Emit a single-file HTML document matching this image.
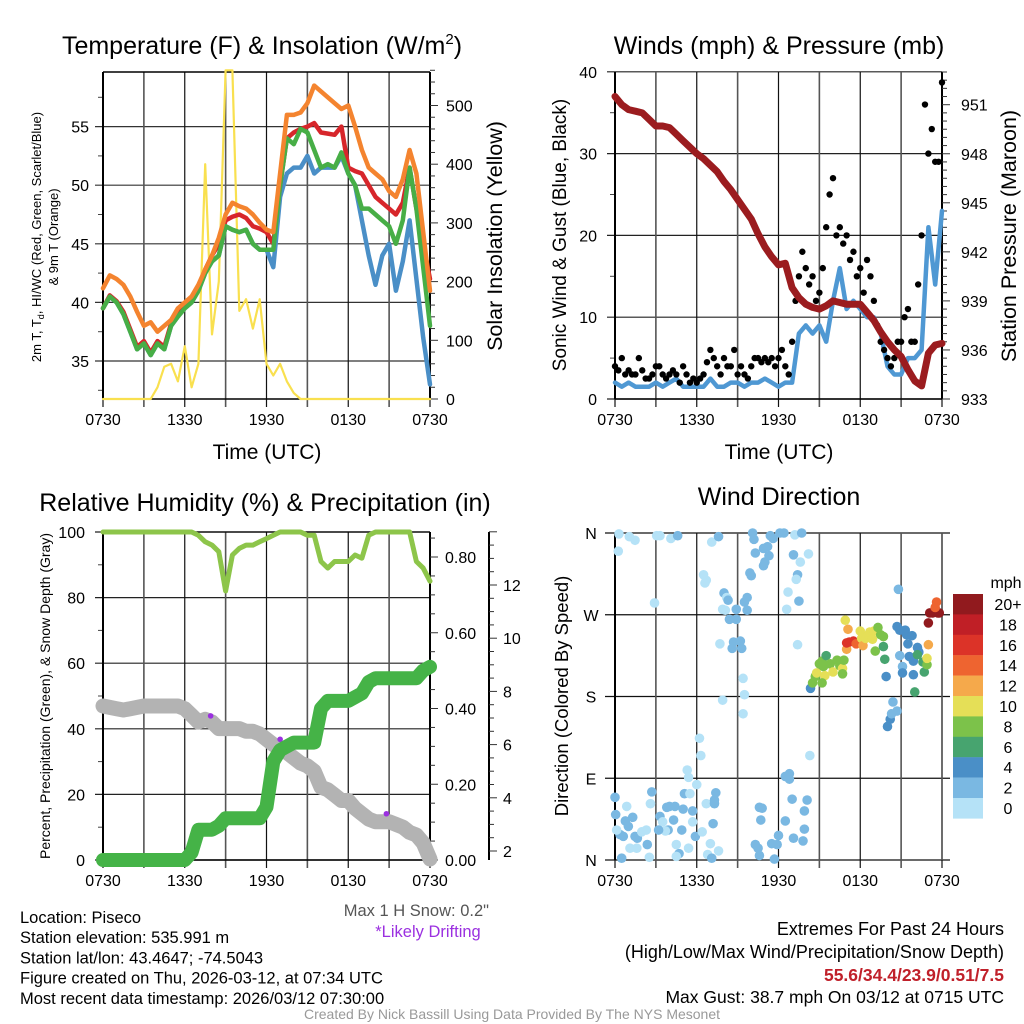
<!DOCTYPE html>
<html><head><meta charset="utf-8"><style>
html,body{margin:0;padding:0;background:#fff;}
svg{display:block;font-family:"Liberation Sans",Arial,sans-serif;}
</style></head><body>
<svg id="c" width="1024" height="1024" viewBox="0 0 1024 1024"></svg>
<script>
// ---------- DATA (half-hour samples, h = hours since 0730 UTC) ----------
var xTickLabels=["0730","1330","1930","0130","0730"];
var tOrange=[41.2,42.3,42.0,41.5,40.5,39.2,38.0,38.3,37.5,38.0,38.5,39.5,40.0,40.5,41.5,42.8,44.0,45.5,47.5,48.5,48.2,48.0,47.5,46.8,46.2,46.0,51.0,56.0,56.0,56.2,57.0,58.5,58.0,57.5,57.0,56.5,56.8,55.0,53.0,51.5,51.0,50.5,49.5,49.0,50.5,53.0,51.0,46.0,41.0];
var tRed=[39.5,40.6,40.1,39.2,37.7,36.2,36.7,35.7,36.7,36.2,38.2,39.0,39.7,40.2,41.2,42.8,44.0,45.0,47.0,47.3,47.5,47.2,46.5,46.3,46.0,45.0,50.0,54.0,54.5,54.8,55.0,55.3,54.5,54.4,54.3,55.0,51.5,51.2,51.0,50.0,49.0,48.5,48.0,47.5,48.5,51.5,48.0,45.0,42.0];
var tGreen=[39.5,40.5,40.0,39.0,37.5,36.0,36.5,35.5,36.5,36.0,38.0,38.8,39.5,40.0,41.0,42.5,43.5,44.0,46.5,46.2,46.0,46.2,45.0,44.5,44.5,44.5,50.0,54.0,53.5,54.8,54.5,53.0,51.5,51.8,51.5,52.8,51.0,50.0,48.0,48.0,47.5,47.0,46.5,45.0,47.0,51.5,48.0,43.0,38.0];
var tBlue=[39.5,40.5,40.0,39.0,37.5,36.0,36.5,35.5,36.5,36.0,38.0,38.8,39.5,40.0,41.0,42.5,43.5,44.0,46.5,46.2,46.0,46.2,45.0,44.5,44.5,43.0,49.0,51.0,51.5,51.5,52.5,51.0,51.5,51.5,51.5,52.5,51.0,50.0,47.0,44.0,41.5,44.0,45.0,41.0,43.5,47.0,42.0,37.0,33.0];
var solar=[0,0,0,0,0,0,0,0,20,55,60,30,90,20,60,400,110,200,560,560,150,170,120,170,60,40,60,30,10,0,0,0,0,0,0,0,0,0,0,0,0,0,0,0,0,0,0,0,0];
var windSust=[2,1.5,2,1.5,1.5,1.5,2,1.5,2,2.5,1.5,1.5,1.5,1.5,2.5,1.5,1.5,2,2,1.5,2,2,2.5,2,1.5,2,2,8,9,8,9,7,12,16,11,12,11,10,10,8,4,3,3,5,5,6,21,14,23];
var windGust=[4,5,3.5,3,3.5,2.5,4,3,3,3,4,2,2,3,6,4,5,4,3,3,4,5,5,5,5,4,7,15,16,15,13,21,27,21,20,18,16,17,12,7,5,5,7,11,7,20,30,29,38.7];
// gusts at quarter-past/quarter-to offsets (h = 0.25, 0.75, ... 23.75)
var windGustQ=[3.5,3,3,5,2.5,3,4,2.5,3.5,2,3,2.5,2.5,4.5,5,3,4,6,4,2.5,5,4.5,4.5,4,6,3,12,18,14,12,16,25,20,19,17,15,13,15,9,6,4,7,10,7,14,36,33,29];
var pressure=[951.5,951.0,950.7,950.6,950.5,950.1,949.7,949.7,949.6,949.2,948.8,948.4,948.0,947.7,947.3,946.9,946.3,945.8,945.2,944.6,944.0,943.1,942.3,941.7,941.2,941.3,939.8,939.2,938.8,938.6,938.5,938.7,939.0,938.9,938.8,938.8,938.8,938.3,937.8,937.1,936.5,936.0,935.6,934.8,934.1,933.8,935.8,936.3,936.4];
var rh=[100,100,100,100,100,100,100,100,100,100,100,100,100,100,99,97,96,94,82,93,95,96,96,97,98,99,100,100,100,100,99,99,91,89,91,91,91,93,92,99,100,100,100,100,100,100,91,89,85];
var precip=[0,0,0,0,0,0,0,0,0,0,0,0,0,0.02,0.08,0.08,0.08,0.09,0.11,0.11,0.11,0.11,0.11,0.11,0.14,0.26,0.29,0.30,0.31,0.31,0.31,0.31,0.40,0.42,0.42,0.42,0.42,0.43,0.44,0.47,0.48,0.48,0.48,0.48,0.48,0.48,0.48,0.50,0.51];
var snowDepth=[7.45,7.4,7.35,7.3,7.35,7.4,7.45,7.45,7.45,7.45,7.45,7.45,7.35,7.1,6.85,6.95,6.85,6.6,6.6,6.6,6.6,6.5,6.5,6.4,6.2,6.0,5.85,5.7,5.5,5.3,5.2,5.0,4.4,4.3,4.1,3.9,3.9,3.6,3.4,3.2,3.1,3.1,3.1,3.0,2.9,2.7,2.6,2.3,1.7];
var driftH=[7.9,13.0,20.8];
var driftSnow=[7.08,6.2,3.4];
var dirH=[0.29,1.05,1.47,0.24,3.06,3.3,4.1,4.6,7.1,7.6,10.1,10.2,11.4,11.6,12.1,12.4,13.2,13.7,10.3,10.9,11.2,11.3,11.0,10.9,14.2,13.1,13.6,13.4,13.3,9.9,10.0,6.5,6.7,6.6,2.9,8.0,8.2,8.3,9.7,9.5,12.7,13.5,12.6,7.9,8.1,8.9,8.4,8.9,9.7,7.7,8.7,9.2,8.6,9.3,13.4,9.4,9.5,7.9,9.4,6.2,6.3,5.3,5.4,6.0,14.3,12.5,12.8,12.8,13.0,14.1,13.9,10.6,10.8,10.7,12.5,13.9,13.8,13.1,12.0,11.9,11.5,10.3,10.5,10.6,11.7,
0.0,0.05,0.76,0.98,1.3,0.37,0.61,1.47,1.64,2.37,2.52,1.1,1.6,0.49,0.12,0.86,1.96,2.3,2.6,2.7,3.3,3.5,3.8,4.0,4.4,4.3,3.9,3.7,3.2,5.0,5.1,5.5,5.7,5.7,5.9,4.9,4.5,4.7,5.4,4.5,6.7,7.3,7.4,7.3,7.2,7.0,7.6,6.4,6.8,7.1,
14.35,14.5,14.7,14.8,15.0,15.2,15.3,15.4,15.2,15.5,15.8,16.0,16.3,16.5,16.7,16.8,16.7,16.9,17.1,17.0,17.0,17.2,17.5,17.7,18.0,18.1,18.2,18.4,18.6,18.7,18.9,19.0,19.1,19.3,19.5,19.7,19.7,19.8,19.9,20.0,20.2,20.3,20.4,20.7,20.8,20.7,20.9,20.9,21.1,21.1,21.3,21.4,21.8,21.5,21.6,21.9,21.9,22.0,22.2,22.3,22.2,22.6,22.7,22.9,22.9,23.0,23.0,23.1,23.3,23.5,23.7,23.8,23.6,23.5];
var dirDeg=[359,356,352,340,357,357,354,357,350,356,360,353,357,354,360,360,358,360,338,343,345,335,328,324,337,336,328,314,309,316,313,314,308,305,283,294,289,286,289,284,295,285,276,276,275,276,265,265,275,238,240,241,233,233,237,200,182,176,161,134,115,99,91,83,115,92,95,89,67,66,54,58,57,44,43,34,21,24,27,17,18,17,13,5,1,
69,50,43,37,47,28,26,26,24,17,3,13,13,2,33,59,31,33,62,75,48,42,58,59,59,44,33,32,33,56,73,73,54,42,26,33,17,7,13,4,62,66,74,62,40,18,10,31,6,2,
189,195,202,206,216,219,213,203,195,225,216,207,220,214,211,220,205,264,254,232,239,240,241,238,252,244,236,244,248,251,243,252,230,256,248,246,235,221,202,147,155,161,174,164,298,257,253,225,213,206,253,248,247,238,224,219,204,185,234,229,226,218,207,215,222,237,261,272,272,273,272,272,284,278];
var dirSpd=[1,1,1,1,1,1,1,3,1,3,3,3,3,3,3,3,1,3,3,3,3,3,3,3,1,3,1,3,1,3,3,1,1,1,1,3,1,3,3,3,1,3,1,1,1,3,3,3,3,1,3,3,3,3,1,1,1,1,1,1,1,1,1,1,1,3,3,3,3,3,3,3,3,3,3,3,3,3,3,3,3,3,3,3,3,
3,3,3,3,3,3,3,3,3,3,1,1,1,3,1,1,1,1,1,3,3,1,3,3,3,3,3,1,3,3,3,1,3,1,3,3,1,3,1,1,1,3,3,3,3,1,1,1,1,3,
5,9,9,11,9,9,9,11,9,7,9,11,9,9,11,9,9,11,13,13,17,17,17,15,11,11,13,11,11,11,11,11,9,9,9,9,7,7,5,5,5,3,3,3,3,5,5,3,3,5,5,5,5,5,5,5,5,7,5,5,7,7,7,9,11,13,21,21,21,21,21,21,15,15];
var legendLabels=["20+","18","16","14","12","10","8","6","4","2","0"];
var legendColors=["#911a1e","#c01f26","#dc3328","#ee6430","#f5a94b","#e5df57","#7cc24a","#47a46f","#4a8fc7","#7ab8e2","#b5e2f7"];

// ---------- HELPERS ----------
var NS="http://www.w3.org/2000/svg",svg=document.getElementById('c');
var TICK=16;
function el(tag,attrs,parent){var e=document.createElementNS(NS,tag);for(var k in attrs)e.setAttribute(k,attrs[k]);(parent||svg).appendChild(e);return e;}
function txt(s,x,y,size,anchor,fill,rot,weight){var a={x:x,y:y,'font-size':size,'text-anchor':anchor||'middle',fill:fill||'#000'};if(rot)a.transform='rotate('+rot+' '+x+' '+y+')';if(weight)a['font-weight']=weight;var t=el('text',a);t.textContent=s;return t;}
function ln(x1,y1,x2,y2,c,w){return el('line',{x1:x1,y1:y1,x2:x2,y2:y2,stroke:c||'#000','stroke-width':w||1});}
function xs(h,L,R){return L+h*(R-L)/24;}
function polyline(vals,L,R,yf,color,w,name,step){var d='';for(var i=0;i<vals.length;i++){var x=xs(i*(step||0.5),L,R),y=yf(vals[i]);d+=(i?'L':'M')+x.toFixed(1)+' '+y.toFixed(1);}
 var p=el('path',{d:d,fill:'none',stroke:color,'stroke-width':w,'stroke-linejoin':'round','stroke-linecap':'round'});
 
 return p;}
function frameGrid(L,R,T,B,name){
 var g=el('g',{});
 
 
 for(var k=0;k<=8;k++){var x=L+k*(R-L)/8;el('line',{x1:x,y1:T,x2:x,y2:B+8,stroke:(k%2?'#555':'#111'),'stroke-width':(k%2?1.6:1.2)},g);}
 for(var k=0;k<5;k++){var t=txt(xTickLabels[k],L+k*(R-L)/4,B+26,TICK);
  
  }
 return g;}
function hgrid(y,L,R,c){ln(L-8,y,R,y,c||'#222',1.2);}
function leftMinor(y,L){ln(L-5,y,L,y,'#444',1);}
function rightTick(y,R,len){ln(R,y,R+(len||8),y,'#333',1);}

// ================= PANEL 1 =================
(function(){
 var L=103,R=430,T=72,B=399;
 var yT=function(v){return 361-(v-35)*11.72;};
 var yS=function(v){return 399-v*0.587;};
 var t=txt('Temperature (F) & Insolation (W/m',262,54,25);
 var ts=el('tspan',{'font-size':15,dy:-10},t);ts.textContent='2';var ts2=el('tspan',{'font-size':25,dy:10},t);ts2.textContent=')';
 [35,40,45,50,55].forEach(function(v){hgrid(yT(v),L,R,'#333');txt(v,L-14,yT(v)+6,TICK,'end');});
 [32.5,37.5,42.5,47.5,52.5,57.5].forEach(function(v){leftMinor(yT(v),L);});
 frameGrid(L,R,T,B,'temp-grid');
 ln(L,T,R,T,'#000',1.5);ln(L,B,R,B,'#000',1.5);ln(L,T,L,B,'#000',2);ln(R,T,R,B,'#000',2);
 for(var v=0;v<=560;v+=20){rightTick(yS(v),R,v%100?5:8);}
 [0,100,200,300,400,500].forEach(function(v){txt(v,R+16,yS(v)+6,TICK,'start');});
 polyline(solar,L,R,yS,'#f9e04f',2.2,'solar-insolation-line');
 polyline(tBlue,L,R,yT,'#4a8fc7',4.5,'heat-index-blue-line');
 polyline(tRed,L,R,yT,'#d7262b',4.5,'temp-2m-red-line');
 polyline(tGreen,L,R,yT,'#47ae46',4.5,'dewpoint-green-line');
 polyline(tOrange,L,R,yT,'#f4842f',4.5,'temp-9m-orange-line');
 var a=el('text',{'font-size':13,'text-anchor':'middle',transform:'translate(41 237) rotate(-90)'});
 var s1=el('tspan',{},a);s1.textContent='2m T, T';var s2=el('tspan',{'font-size':9,dy:3},a);s2.textContent='d';var s3=el('tspan',{dy:-3},a);s3.textContent=', HI/WC (Red, Green, Scarlet/Blue)';
 
 var b=txt('& 9m T (Orange)',0,0,13);b.setAttribute('transform','translate(58 237) rotate(-90)');
 var c=txt('Solar Insolation (Yellow)',0,0,21.5);c.setAttribute('transform','translate(502 236) rotate(-90)');
 var d=txt('Time (UTC)',267,459,21);
})();

// ================= PANEL 2 =================
(function(){
 var L=615,R=942,T=72,B=399;
 var yW=function(v){return 399-v*8.18;};
 var yP=function(v){return 399-(v-933)*16.35;};
 var t=txt('Winds (mph) & Pressure (mb)',779,54,25);
 [0,10,20,30,40].forEach(function(v){hgrid(yW(v),L,R);txt(v,L-18,yW(v)+6,TICK,'end');});
 [5,15,25,35].forEach(function(v){leftMinor(yW(v),L);});
 frameGrid(L,R,T,B,'winds-grid');
 ln(L,T,L,B,'#000',2);ln(R,T,R,B,'#000',2);ln(L,B,R,B,'#000',1.5);
 for(var v=933;v<=953;v+=0.5){if(yP(v)>=T-2)rightTick(yP(v),R,(v%3===0)?8:5);}
 [933,936,939,942,945,948,951].forEach(function(v){txt(v,R+19,yP(v)+6,TICK,'start');});
 polyline(windSust,L,R,yW,'#4f98d3',4.5,'sonic-wind-blue-line');
 for(var i=0;i<windGust.length;i++){var cc=el('circle',{cx:xs(i*0.5,L,R),cy:yW(windGust[i]),r:3.2,fill:'#000'});
  
  }
 for(var i=0;i<windGustQ.length;i++){var cq=el('circle',{cx:xs(0.25+i*0.5,L,R),cy:yW(windGustQ[i]),r:3.2,fill:'#000'});
  
  }
 polyline(pressure,L,R,yP,'#9b1c1f',7,'pressure-maroon-line');
 var a=txt('Sonic Wind & Gust (Blue, Black)',0,0,19);a.setAttribute('transform','translate(566 235) rotate(-90)');
 var b=txt('Station Pressure (Maroon)',0,0,21.5);b.setAttribute('transform','translate(1016 236) rotate(-90)');
 var d=txt('Time (UTC)',779,459,21);
})();

// ================= PANEL 3 =================
(function(){
 var L=103,R=430,T=532,B=860;
 var yR=function(v){return 860-v*3.28;};
 var yPr=function(v){return 860-v*378.75;};
 var ySn=function(v){return 851-(v-2)*26.6;};
 var t=txt('Relative Humidity (%) & Precipitation (in)',265,511,25);
 [0,20,40,60,80,100].forEach(function(v){hgrid(yR(v),L,R);txt(v,L-18,yR(v)+6,TICK,'end');});
 [10,30,50,70,90].forEach(function(v){leftMinor(yR(v),L);});
 frameGrid(L,R,T,B,'rh-grid');
 ln(L,T,L,B,'#000',2);ln(R,T,R,B,'#000',2);ln(L,B,R,B,'#000',1.5);ln(L,T,R,T,'#000',1.2);
 for(var v=0;v<=0.86;v+=0.05){rightTick(yPr(v),R,(Math.round(v*100)%20===0)?8:5);}
 ['0.00','0.20','0.40','0.60','0.80'].forEach(function(s){txt(s,R+15,yPr(parseFloat(s))+6,TICK,'start');});
 ln(489,532,489,860,'#000',2);
 for(var v=2;v<=14;v+=0.5){ln(489,ySn(v),489+((v%2===0)?8:5),ySn(v),'#333',1);}
 [2,4,6,8,10,12].forEach(function(v){txt(v,503,ySn(v)+6,TICK,'start');});
 polyline(snowDepth,L,R,ySn,'#b3b3b3',15,'snow-depth-gray-line');
 for(var i=0;i<driftH.length;i++){var cc=el('circle',{cx:xs(driftH[i],L,R),cy:ySn(driftSnow[i]),r:2.8,fill:'#9b30e0'});
  
  }
 polyline(precip,L,R,yPr,'#45b347',14,'precip-green-line');
 polyline(rh,L,R,yR,'#8dc54a',5,'rh-line');
 var a=txt('Percent, Precipitation (Green), & Snow Depth (Gray)',0,0,14);a.setAttribute('transform','translate(50 696) rotate(-90)');
})();

// ================= PANEL 4 =================
(function(){
 var L=615,R=942,T=533,B=860;
 var yD=function(v){return 860-v*0.9083;};
 var t=txt('Wind Direction',779,505,25);
 var labs=['N','E','S','W','N'];
 for(var k=0;k<5;k++){var y=yD(k*90);ln(L-10,y,R+8,y,'#111',1.2);txt(labs[k],L-24,y+6,TICK,'middle');}
 frameGrid(L,R,T,B,'direction-grid');
 ln(L,T,L,B,'#000',2);ln(R,T,R,B,'#555',1.6);
 function col(s){var i=Math.min(10,Math.floor(s/2));return legendColors[10-i];}
 for(var i=0;i<dirH.length;i++){var c=el('circle',{cx:xs(dirH[i],L,R),cy:yD(dirDeg[i]),r:4.8,fill:col(dirSpd[i])});
  
  }
 var a=txt('Direction (Colored By Speed)',0,0,18.5);a.setAttribute('transform','translate(568 696) rotate(-90)');
 var lt=txt('mph',1006,588,16);
 for(var j=0;j<legendLabels.length;j++){var r=el('rect',{x:953,y:594+j*20.4,width:30,height:20.6,fill:legendColors[j]});
  
  
  var lb=txt(legendLabels[j],1008,594+j*20.4+16,16,'middle');
  
  }
})();

// ================= FOOTER TEXT =================
(function(){
 var lines=['Location: Piseco','Station elevation: 535.991 m','Station lat/lon: 43.4647; -74.5043','Figure created on Thu, 2026-03-12, at 07:34 UTC','Most recent data timestamp: 2026/03/12 07:30:00'];
 for(var i=0;i<lines.length;i++){var t=txt(lines[i],20,923+i*20.2,16.5,'start');}
 var s=txt('Max 1 H Snow: 0.2"',489,916,16.5,'end','#555');
 var d=txt('*Likely Drifting',428,937,16.5,'middle','#9b30e0');
 var e1=txt('Extremes For Past 24 Hours',1004,935,18,'end');
 var e2=txt('(High/Low/Max Wind/Precipitation/Snow Depth)',1004,958,18,'end');
 var e3=txt('55.6/34.4/23.9/0.51/7.5',1004,981,17.5,'end','#c0202a','','bold');
 var e4=txt('Max Gust: 38.7 mph On 03/12 at 0715 UTC',1004,1003,17.5,'end');
 var f=txt('Created By Nick Bassill Using Data Provided By The NYS Mesonet',512,1019,14,'middle','#999');
})();
</script>
</body></html>
